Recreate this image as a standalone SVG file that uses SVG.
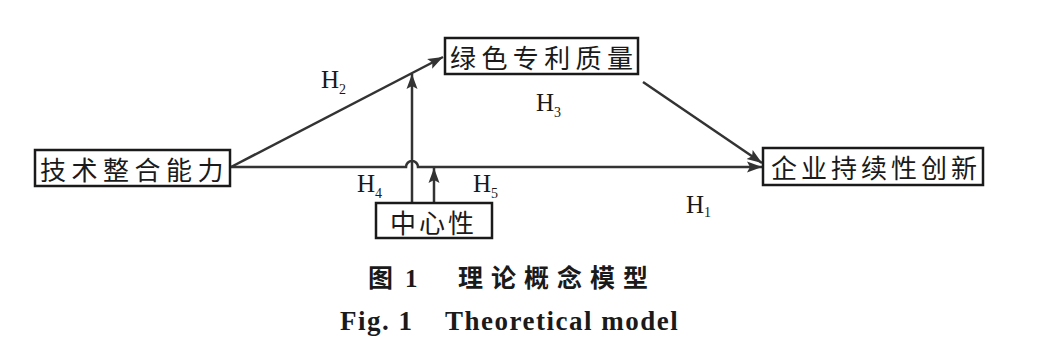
<svg xmlns="http://www.w3.org/2000/svg" width="1040" height="364" viewBox="0 0 1040 364">
<defs>
<marker id="arr" markerUnits="userSpaceOnUse" markerWidth="16" markerHeight="12" refX="15" refY="6" orient="auto">
<path d="M0,0.5 L15,6 L0,11.5 L3,6 z" fill="#333"/>
</marker>
<style>
.box{fill:#fff;stroke:#1a1a1a;stroke-width:2.5}
.cn{font-family:"Noto Sans CJK SC","Noto Sans",sans-serif;font-size:26px;fill:#1a1a1a;dominant-baseline:central}
.ln{fill:none;stroke:#333;stroke-width:2.5}
.h{font-family:"Liberation Serif","Times New Roman",serif;font-size:25px;fill:#1a1a1a}
.sub{font-size:14px}
.cap{font-family:"Noto Sans CJK SC",sans-serif;font-size:25px;font-weight:bold;fill:#1a1a1a}
.en{font-family:"Liberation Serif","Times New Roman",serif;font-size:27px;font-weight:bold;fill:#1a1a1a;letter-spacing:1.5px}
</style>
</defs>
<g id="connectors">
<path class="ln" d="M231,167 L443,57" marker-end="url(#arr)"/>
<path class="ln" d="M231,167 H406 A6,6 0 0 1 418,167 H762" marker-end="url(#arr)"/>
<path class="ln" d="M643,82 L762,163" marker-end="url(#arr)"/>
<path class="ln" d="M412,203 V74" marker-end="url(#arr)"/>
<path class="ln" d="M434,203 V168" marker-end="url(#arr)"/>
</g>
<g id="node-tech">
<rect class="box" x="35" y="150" width="195" height="36"/>
<text class="cn" x="40" y="168" style="letter-spacing:5.5px">技术整合能力</text>
</g>
<g id="node-green">
<rect class="box" x="445" y="38" width="193" height="36"/>
<text class="cn" x="450" y="56" style="letter-spacing:5.4px">绿色专利质量</text>
</g>
<g id="node-innov">
<rect class="box" x="763" y="148" width="220" height="37"/>
<text class="cn" x="771" y="166" style="letter-spacing:4px">企业持续性创新</text>
</g>
<g id="node-center">
<rect class="box" x="376" y="203" width="116" height="35"/>
<text class="cn" x="390" y="221" style="letter-spacing:3px">中心性</text>
</g>
<g id="labels">
<text class="h" x="321" y="88">H<tspan class="sub" dy="6">2</tspan></text>
<text class="h" x="536" y="111">H<tspan class="sub" dy="6">3</tspan></text>
<text class="h" x="357" y="192">H<tspan class="sub" dy="6">4</tspan></text>
<text class="h" x="473" y="192">H<tspan class="sub" dy="6">5</tspan></text>
<text class="h" x="686" y="213">H<tspan class="sub" dy="4">1</tspan></text>
</g>
<g id="caption">
<text class="cap" x="368" y="287">图</text>
<text class="en" x="405" y="287" style="font-size:25px;letter-spacing:0">1</text>
<text class="cap" x="458" y="287" style="letter-spacing:8px">理论概念模型</text>
<text class="en" x="340" y="330">Fig. 1</text>
<text class="en" x="445" y="330">Theoretical model</text>
</g>
</svg>
